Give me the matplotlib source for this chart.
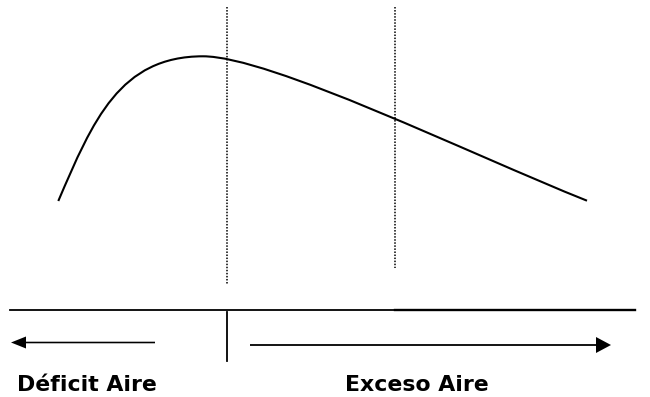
import matplotlib
matplotlib.use("Agg")
import matplotlib.pyplot as plt
from matplotlib.path import Path
from matplotlib.patches import PathPatch

# Combustion efficiency vs. air supply (schematic), drawing units with y downward.
# The curve is two cubic Bezier segments: rising branch up to the peak,
# then the falling branch towards excess air.
curve_start = (58.3, 201.0)
curve_peak = (203.0, 56.3)
curve_end = (587.0, 200.7)
rise_controls = [(93.0, 120.0), (120.0, 56.3)]
fall_controls = [(270.0, 56.3), (470.0, 154.0)]

# Reference positions: stoichiometric point and optimum excess-air point
guide_x = [227, 395]
guide_top = [7, 7]
guide_bottom = [285, 268]

# Baseline axis and its divider
axis_y = 309.5
axis_x = [10, 395, 635]
divider = (227, 311.7, 360.7)

# Direction arrows (start, end, y)
left_arrow = (155, 11, 342.5)
right_arrow = (250, 611, 345)

labels = ["Déficit Aire", "Exceso Aire"]
label_x = [17, 345]
label_y = 391

fig = plt.figure(figsize=(6.5, 3.97), dpi=100)
ax = fig.add_axes([0, 0, 1, 1])
ax.set_xlim(0, 650)
ax.set_ylim(397, 0)
ax.axis("off")

verts = [curve_start, *rise_controls, curve_peak, *fall_controls, curve_end]
codes = [Path.MOVETO] + [Path.CURVE4] * 6
ax.add_patch(PathPatch(Path(verts, codes), facecolor="none",
                       edgecolor="black", lw=1.5, capstyle="butt"))

for gx, gt, gb in zip(guide_x, guide_top, guide_bottom):
    ax.plot([gx, gx], [gt, gb], color="black", lw=1.1,
            linestyle=(0, (1.0, 1.0)), dash_capstyle="butt")

ax.plot(axis_x[:2], [axis_y, axis_y], color="black", lw=1.3)
ax.plot(axis_x[1:], [axis_y, axis_y], color="black", lw=1.7)
ax.plot([divider[0], divider[0]], [divider[1], divider[2]], color="black", lw=1.3)

x0, x1, y = left_arrow
ax.arrow(x0, y, x1 - x0, 0, width=1.6, head_width=12, head_length=15,
         length_includes_head=True, color="black", lw=0)
x0, x1, y = right_arrow
ax.arrow(x0, y, x1 - x0, 0, width=1.8, head_width=16, head_length=15,
         length_includes_head=True, color="black", lw=0)

for text, tx in zip(labels, label_x):
    ax.text(tx, label_y, text, ha="left", va="baseline", fontsize=15.8,
            fontweight="bold", family=["DejaVu Sans"], color="black")

fig.savefig("out.png", dpi=100, facecolor="white")
